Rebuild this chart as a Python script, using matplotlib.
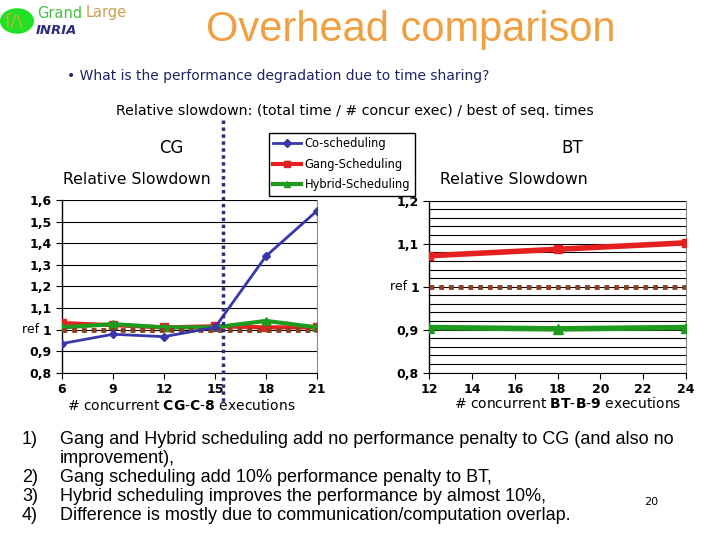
import matplotlib.pyplot as plt
from matplotlib.lines import Line2D
from matplotlib.patches import Circle

# CG data
cg_x = [6, 9, 12, 15, 18, 21]
cg_co = [0.935, 0.978, 0.967, 1.01, 1.34, 1.55]
cg_gang = [1.03, 1.02, 1.01, 1.015, 1.01, 1.01]
cg_hybrid = [1.01, 1.025, 1.01, 1.01, 1.04, 1.01]

# BT data
bt_x = [12, 18, 24]
bt_gang = [1.072, 1.087, 1.102]
bt_hybrid = [0.905, 0.902, 0.905]

ref = 1.0

blue = '#3838A8'
red = '#E42020'
green = '#1E9A1E'
brown = '#8B4020'
orange = '#F0A040'
navy = '#2E2E80'

fig = plt.figure(figsize=(7.2, 5.4), dpi=100)

def px(x, y):
    return x / 720, 1 - y / 540

# --- header ---
fig.add_artist(Circle(px(17, 21), 17 / 720, transform=fig.transFigure,
                      facecolor='#22E022', edgecolor='none'))
fig.text(*px(5, 22), 'ſ/\\', fontsize=13, color='#C0B040', va='center')
fig.text(*px(37, 13), 'Grand', fontsize=10.5, color='#44C044', va='center')
fig.text(*px(86, 13), 'Large', fontsize=10.5, color='#C8A050', va='center')
fig.text(*px(36, 30), 'INRIA', fontsize=9.5, color=navy, va='center',
         fontweight='bold', style='italic')
fig.text(*px(411, 30), 'Overhead comparison', fontsize=30, color=orange,
         ha='center', va='center', family='Liberation Sans')
fig.text(*px(67, 76), '\u2022 What is the performance degradation due to time sharing?',
         fontsize=10, va='center', color='#222266')
fig.text(*px(355, 111), 'Relative slowdown: (total time / # concur exec) / best of seq. times',
         fontsize=10.2, ha='center', va='center')
fig.text(*px(171, 148), 'CG', fontsize=12, ha='center', va='center')
fig.text(*px(572, 148), 'BT', fontsize=12, ha='center', va='center')
fig.text(*px(137, 180), 'Relative Slowdown', fontsize=11.3, ha='center', va='center')
fig.text(*px(514, 180), 'Relative Slowdown', fontsize=11.3, ha='center', va='center')

# --- CG chart ---
ax1 = fig.add_axes([62 / 720, 1 - 372.7 / 540, 255 / 720, 172.7 / 540])
ax1.plot(cg_x, cg_gang, color=red, lw=3, marker='s', ms=6, zorder=3)
ax1.plot(cg_x, cg_hybrid, color=green, lw=3, marker='^', ms=6, zorder=3)
ax1.axhline(ref, color=brown, lw=3.5, ls=(0, (1, 1)), zorder=4)
ax1.plot(cg_x, cg_co, color=blue, lw=2, marker='D', ms=4, zorder=5)
ax1.set_xlim(6, 21)
ax1.set_ylim(0.8, 1.6)
ax1.set_xticks(cg_x)
ax1.set_xticklabels([str(v) for v in cg_x])
yt1 = [0.8, 0.9, 1.0, 1.1, 1.2, 1.3, 1.4, 1.5, 1.6]
ax1.set_yticks(yt1)
ax1.set_yticklabels([('1' if v == 1.0 else f'{v:.1f}'.replace('.', ',')) for v in yt1])
ax1.text(-0.075, (1.0 - 0.8) / 0.8, 'ref ', transform=ax1.transAxes,
         ha='right', va='center', fontsize=9)
ax1.grid(axis='y', color='black', lw=0.8)

# --- BT chart ---
ax2 = fig.add_axes([429.3 / 720, 1 - 372.7 / 540, 256.7 / 720, 172 / 540])
ax2.plot(bt_x, bt_gang, color=red, lw=4, marker='s', ms=6, zorder=3)
ax2.plot(bt_x, bt_hybrid, color=green, lw=4, marker='^', ms=7, zorder=3)
ax2.axhline(ref, color=brown, lw=3.5, ls=(0, (1, 1)), zorder=4)
ax2.set_xlim(12, 24)
ax2.set_ylim(0.8, 1.2)
ax2.set_xticks(range(12, 25, 2))
ax2.set_yticks([0.8, 0.9, 1.0, 1.1, 1.2])
ax2.set_yticklabels(['0,8', '0,9', '1', '1,1', '1,2'])
ax2.set_yticks([0.8 + 0.02 * i for i in range(21)], minor=True)
ax2.tick_params(axis='y', which='minor', length=0)
ax2.grid(axis='y', which='both', color='black', lw=0.8)
ax2.text(-0.07, 0.5, 'ref ', transform=ax2.transAxes,
         ha='right', va='center', fontsize=9)

for ax in (ax1, ax2):
    ax.set_axisbelow(True)
    ax.spines['top'].set_visible(False)
    ax.spines['right'].set_color('#888888')
    ax.spines['left'].set_linewidth(1)
    ax.tick_params(labelsize=9, length=4, direction='out')
    for lab in ax.get_xticklabels() + ax.get_yticklabels():
        lab.set_fontweight('bold')

fig.text(*px(181, 405), '# concurrent $\\bf{CG}$-$\\bf{C}$-$\\bf{8}$ executions',
         fontsize=10, ha='center', va='center')
fig.text(*px(568, 403), '# concurrent $\\bf{BT}$-$\\bf{B}$-$\\bf{9}$ executions',
         fontsize=10, ha='center', va='center')

# legend
handles = [Line2D([], [], color=blue, lw=2, marker='D', ms=4),
           Line2D([], [], color=red, lw=3, marker='s', ms=4),
           Line2D([], [], color=green, lw=3, marker='^', ms=5)]
fig.legend(handles, ['Co-scheduling', 'Gang-Scheduling', 'Hybrid-Scheduling'],
           loc='upper left', bbox_to_anchor=px(263, 127), fontsize=8.3,
           frameon=True, fancybox=False, edgecolor='black', framealpha=1,
           handlelength=2.4, borderpad=0.4, labelspacing=0.65, handletextpad=0.3)

# vertical dotted divider
fig.add_artist(Line2D([223 / 720, 223 / 720], [1 - 120 / 540, 1 - 405 / 540],
                      transform=fig.transFigure, color=navy, lw=2.5,
                      ls=(0, (1, 1)), zorder=10))

# --- bottom notes ---
notes = ['1)', '', '2)', '3)', '4)']
lines = ['Gang and Hybrid scheduling add no performance penalty to CG (and also no',
         'improvement),',
         'Gang scheduling add 10% performance penalty to BT,',
         'Hybrid scheduling improves the performance by almost 10%,',
         'Difference is mostly due to communication/computation overlap.']
for i, (n, t) in enumerate(zip(notes, lines)):
    y = 439 + 19.2 * i
    fig.text(*px(22, y), n, fontsize=13, va='center', family='Liberation Sans')
    fig.text(*px(60, y), t, fontsize=13, va='center', family='Liberation Sans')
fig.text(*px(651, 502), '20', fontsize=8, ha='center', va='center')

fig.savefig('out.png', dpi=100)
